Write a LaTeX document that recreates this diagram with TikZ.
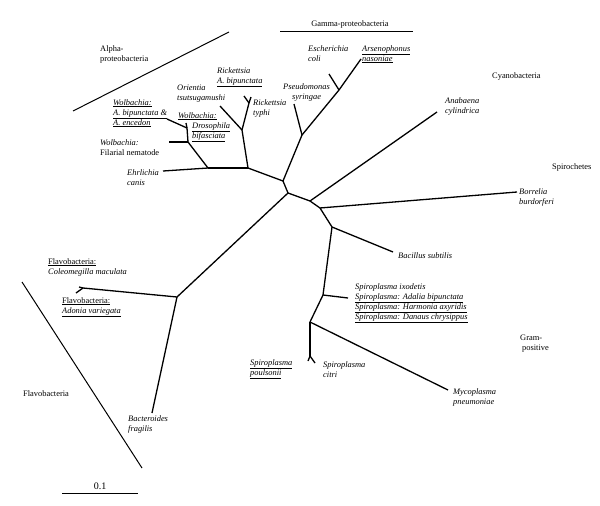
\documentclass[tikz,border=0pt]{standalone}
\usepackage{fontspec}
\setmainfont{Liberation Serif}
\usetikzlibrary{positioning}

\tikzset{
    branch/.style={line width=1.3pt},
    group/.style={line width=1pt},
    taxon/.style={font=\fontsize{8.4}{10}\selectfont\itshape, align=left, inner sep=0pt, anchor=north west},
    clade/.style={font=\fontsize{8.4}{10}\selectfont, align=left, inner sep=0pt, anchor=north west}
}

\begin{document}
\begin{tikzpicture}[x=1pt, y=-1pt]
            \useasboundingbox (0, 0) rectangle (600, 506);

            \coordinate (c1) at (283, 181);
            \coordinate (c2) at (288, 193);
            \coordinate (c3) at (310, 201);
            \coordinate (c4) at (320, 208);
            \coordinate (c5) at (332, 227);
            \coordinate (a0) at (248, 168);
            \coordinate (w0) at (208, 168);
            \coordinate (w1) at (188, 142);
            \coordinate (w2) at (187, 128);
            \coordinate (r0) at (242, 130);
            \coordinate (r1) at (249, 103);
            \coordinate (g1) at (302, 135);
            \coordinate (g2) at (339, 90);
            \coordinate (s1) at (323, 295);
            \coordinate (s2) at (310, 322);
            \coordinate (s3) at (310, 356);
            \coordinate (f1) at (177, 297);
            \coordinate (f2) at (83, 288);

            \coordinate (ehr) at (163, 171);
            \coordinate (fil) at (169, 142);
            \coordinate (wam) at (167, 119);
            \coordinate (wdb) at (186, 123);
            \coordinate (ori) at (220, 106);
            \coordinate (rbi) at (244, 96);
            \coordinate (rty) at (251, 97);
            \coordinate (pse) at (294, 104);
            \coordinate (eco) at (329, 74);
            \coordinate (ars) at (361, 59);
            \coordinate (ana) at (437, 112);
            \coordinate (bor) at (517, 192);
            \coordinate (bac) at (393, 252);
            \coordinate (spi) at (348, 298);
            \coordinate (myc) at (448, 390);
            \coordinate (cit) at (315, 363);
            \coordinate (pou) at (308, 361);
            \coordinate (col) at (79, 287);
            \coordinate (ado) at (76, 293);
            \coordinate (bfr) at (152, 413);

            \coordinate (alphaA) at (73, 111);
            \coordinate (alphaB) at (229, 32);
            \coordinate (gammaA) at (280, 31);
            \coordinate (gammaB) at (413, 31);
            \coordinate (flavoA) at (22, 282);
            \coordinate (flavoB) at (142, 468);
            \coordinate (scaleA) at (62, 493);
            \coordinate (scaleB) at (138, 493);

            \node[clade] (alpha) at (100, 45) {Alpha-\\proteobacteria};
            \node[clade, anchor=center] (gamma) at (350, 24) {Gamma-proteobacteria};
            \node[clade] (cyano) at (492, 72) {Cyanobacteria};
            \node[clade] (spiro) at (552, 163) {Spirochetes};
            \node[clade] (gram) at (520, 335) {Gram-\\\hspace*{2pt}positive};
            \node[clade] (flavo) at (23, 390) {Flavobacteria};
            \node[clade, anchor=south, font=\fontsize{10}{12}\selectfont] (scale) at (100, 490) {0.1};

            \node[taxon] (ricb) at (217, 67) {Rickettsia\\\underline{A. bipunctata}};
            \node[taxon] (orie) at (177, 85) {Orientia\\tsutsugamushi};
            \node[taxon] (rict) at (253, 99) {Rickettsia\\typhi};
            \node[taxon] (wolab) at (113, 99) {\underline{Wolbachia:}\\\underline{A. bipunctata \&}\\\underline{A. encedon}};
            \node[taxon] (wold) at (178, 112) {\underline{Wolbachia:}\\\hspace*{14pt}\underline{Drosophila}\\\hspace*{14pt}\underline{bifasciata}};
            \node[taxon] (wolf) at (100, 139) {Wolbachia:\\\upshape Filarial nematode};
            \node[taxon] (ehrl) at (127, 169) {Ehrlichia\\canis};
            \node[taxon] (esch) at (308, 45) {Escherichia\\coli};
            \node[taxon] (arse) at (362, 45) {\underline{Arsenophonus}\\\underline{nasoniae}};
            \node[taxon, align=center] (pseu) at (283, 83) {Pseudomonas\\syringae};
            \node[taxon] (anab) at (445, 97) {Anabaena\\cylindrica};
            \node[taxon] (borr) at (519, 188) {Borrelia\\burdorferi};
            \node[taxon] (baci) at (398, 252) {Bacillus subtilis};
            \node[taxon] (spix) at (355, 283) {Spiroplasma ixodetis\\\underline{Spiroplasma: Adalia bipunctata}\\\underline{Spiroplasma: Harmonia axyridis}\\\underline{Spiroplasma: Danaus chrysippus}};
            \node[taxon] (myco) at (453, 388) {Mycoplasma\\pneumoniae};
            \node[taxon] (citr) at (323, 361) {Spiroplasma\\citri};
            \node[taxon] (poul) at (250, 359) {\underline{Spiroplasma}\\\underline{poulsonii}};
            \node[taxon] (bact) at (128, 415) {Bacteroides\\fragilis};
            \node[taxon] (flcol) at (48, 258) {\upshape\underline{Flavobacteria:}\\Coleomegilla maculata};
            \node[taxon] (flado) at (62, 297) {\upshape\underline{Flavobacteria:}\\\underline{Adonia variegata}};

            \draw[group] (alphaA) -- (alphaB);
            \draw[group] (gammaA) -- (gammaB);
            \draw[group] (flavoA) -- (flavoB);
            \draw[group] (scaleA) -- (scaleB);

            \draw[branch] (c1) -- (c2);
            \draw[branch] (c2) -- (c3);
            \draw[branch] (c3) -- (c4);
            \draw[branch] (c4) -- (c5);
            \draw[branch] (c1) -- (a0);
            \draw[branch] (a0) -- (w0);
            \draw[branch] (w0) -- (ehr);
            \draw[branch] (w0) -- (w1);
            \draw[branch] (w1) -- (fil);
            \draw[branch] (w1) -- (w2);
            \draw[branch] (w2) -- (wam);
            \draw[branch] (w2) -- (wdb);
            \draw[branch] (a0) -- (r0);
            \draw[branch] (r0) -- (ori);
            \draw[branch] (r0) -- (r1);
            \draw[branch] (r1) -- (rbi);
            \draw[branch] (r1) -- (rty);
            \draw[branch] (c1) -- (g1);
            \draw[branch] (g1) -- (pse);
            \draw[branch] (g1) -- (g2);
            \draw[branch] (g2) -- (eco);
            \draw[branch] (g2) -- (ars);
            \draw[branch] (c3) -- (ana);
            \draw[branch] (c4) -- (bor);
            \draw[branch] (c5) -- (bac);
            \draw[branch] (c5) -- (s1);
            \draw[branch] (s1) -- (spi);
            \draw[branch] (s1) -- (s2);
            \draw[branch] (s2) -- (myc);
            \draw[branch] (s2) -- (s3);
            \draw[branch] (s3) -- (cit);
            \draw[branch] (s3) -- (pou);
            \draw[branch] (c2) -- (f1);
            \draw[branch] (f1) -- (f2);
            \draw[branch] (f2) -- (col);
            \draw[branch] (f2) -- (ado);
            \draw[branch] (f1) -- (bfr);
        \end{tikzpicture}
\end{document}
